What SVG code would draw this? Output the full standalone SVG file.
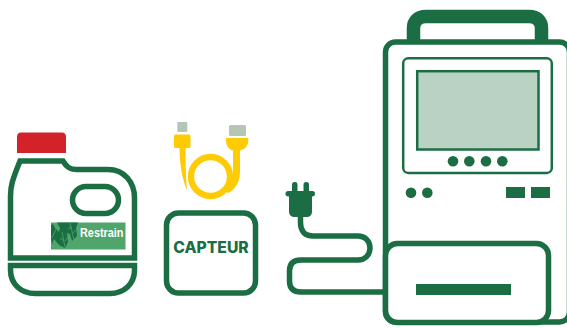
<svg xmlns="http://www.w3.org/2000/svg" width="567" height="328" viewBox="0 0 567 328">
<style>
.o{fill:none;stroke:#1b6e43;stroke-width:5.500}
.f{fill:#1b6e43}
.y{fill:#ffcb05}
.g{fill:#b5c6b4}
.v{fill:none;stroke:#4fa56c;stroke-width:.8}
text{font-weight:700}
</style>
<rect width="567" height="328" fill="#fff"/>
<g id="bottle">
<path d="M21 132.500H62Q66 132.500 66 137V153H17V137Q17 132.500 21 132.500Z" fill="#d2232a"/>
<path class="o" d="M20 161H63C66 166 69 169.500 77 169.500H108C124 169.500 134.500 182 134.500 198V258H10.500V196C10.500 186 12 181 20 161Z"/>
<path class="o" d="M10.500 265.500H134.500V270C134.500 284 124 293.500 110 293.500H35C21 293.500 10.500 284 10.500 270Z"/>
<rect class="o" x="72.500" y="186.500" width="46" height="27" rx="13.500"/>
<rect x="51" y="222.500" width="74.500" height="27" fill="#4fa56c"/>
<path class="f" d="M57 222.500H78L76 228L77 236L72 241L70 234L67 233L68 242L65 248L59 245L54 239L52 244L51 238V225L53 224L55 228L59 232L60 228Z"/>
<path class="v" d="M56 229L52 238M62 232L65 247M60 238L64 241M68 237L65 241M70 223L74 240M68 229L72 227M73 233L76 230"/>
<text x="80" y="237.300" font-family="'Liberation Sans',Arial,sans-serif" font-size="13" fill="#fff" textLength="43.500" lengthAdjust="spacingAndGlyphs">Restrain</text>
</g>
<g id="cable">
<rect class="g" x="177.300" y="122" width="10" height="10" rx="1"/>
<rect class="g" x="229" y="125" width="17" height="11" rx="1.500"/>
<rect class="y" x="174" y="134.500" width="16.500" height="13.500" rx="1.500"/>
<path class="y" d="M179.500 147H185.500C185.500 162 185.800 176 187 190.500C182 178 179.500 164 179.500 147Z"/>
<path class="y" d="M226 138H248.300V141C248.300 146 244 150 240 150.500V172C240 184 233 191 228 193L223 188C230 185 233 180 233 172V150.500C229.500 150 226 146 226 141Z"/>
<circle cx="210.500" cy="176.500" r="19.500" fill="none" stroke="#ffcb05" stroke-width="6.300"/>
</g>
<g id="capteur">
<rect class="o" x="166.500" y="213" width="89" height="80" rx="12"/>
<text x="211" y="252.700" text-anchor="middle" font-family="Inter,'Open Sans',sans-serif" font-size="15.500" style="font-weight:800" fill="#1b6e43" textLength="75.500" lengthAdjust="spacingAndGlyphs">CAPTEUR</text>
</g>
<g id="connectors">
<path class="o" d="M300.500 214V223C300.500 231 305 236 313 236H358C365 236 370 241 370 248S365 260 358 260H301C293 260 289.500 264 289.500 271V281C289.500 288 293 292 301 292H385"/>
</g>
<g id="plug">
<rect class="f" x="292" y="182" width="5.500" height="12" rx="2.500"/>
<rect class="f" x="303.500" y="182" width="5.500" height="12" rx="2.500"/>
<rect class="f" x="285.500" y="191" width="29.500" height="5.500" rx="2.700"/>
<path class="f" d="M289 193H312V211C312 215 310 217 306 217H295C291 217 289 215 289 211Z"/>
</g>
<g id="device">
<path fill="none" stroke="#1b6e43" stroke-width="13.500" d="M413.500 42V28C413.500 21 418 16.500 426 16.500H529C537 16.500 541.500 21 541.500 28V42"/>
<rect class="o" x="385.500" y="42" width="184" height="280" rx="10"/>
<rect x="403.200" y="58.300" width="148.600" height="114.600" rx="5" fill="#fff" stroke="#1b6e43" stroke-width="2.500"/>
<rect x="417.200" y="71.200" width="121.300" height="78.300" fill="#b9d2c4" stroke="#1b6e43" stroke-width="2.500"/>
<g class="f">
<circle cx="453" cy="161.300" r="5.300"/><circle cx="469.300" cy="161.300" r="5.300"/><circle cx="486" cy="161.300" r="5.300"/><circle cx="502.300" cy="161.300" r="5.300"/>
<circle cx="411" cy="192.700" r="5.300"/><circle cx="427.300" cy="192.700" r="5.300"/>
<rect x="506" y="187" width="19" height="11"/><rect x="531" y="187" width="19" height="11"/>
</g>
<rect x="385.500" y="243.500" width="163" height="79" rx="12" fill="#fff" stroke="#1b6e43" stroke-width="5.500"/>
<rect class="f" x="416" y="284" width="95" height="11"/>
</g>
</svg>
